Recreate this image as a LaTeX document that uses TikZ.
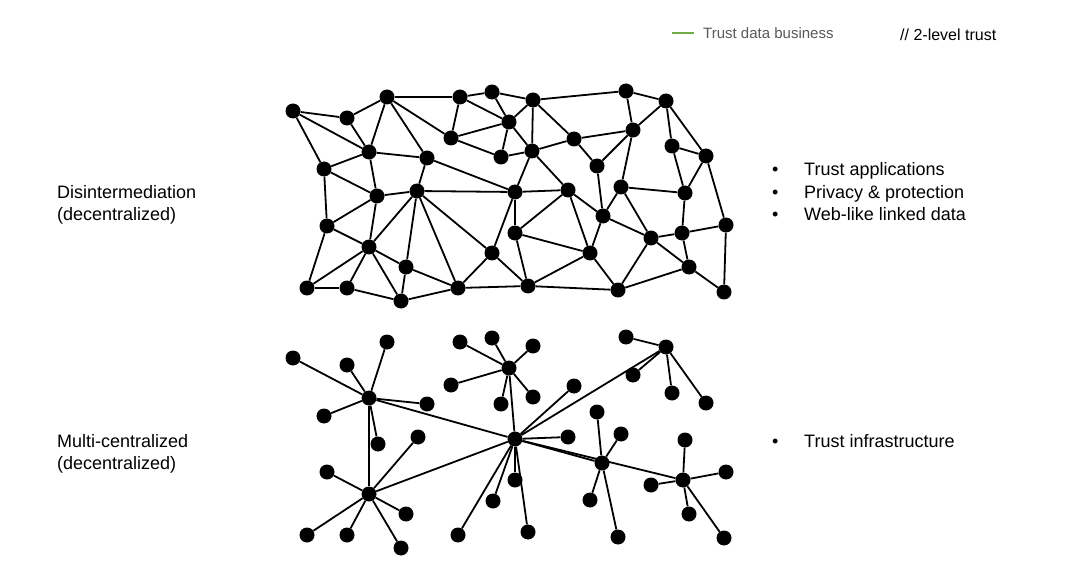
\documentclass[tikz,border=0pt]{standalone}
\usepackage{fontspec}
\setmainfont{Liberation Sans}
\definecolor{legendgreen}{HTML}{70AD47}
\definecolor{legendgray}{HTML}{595959}
\tikzset{
  dot/.style={circle, fill=black, inner sep=0pt, minimum size=15pt},
  edge/.style={line width=1.8pt},
  bigtext/.style={anchor=base west, inner sep=0pt, font=\fontsize{18}{22}\selectfont},
  smalltext/.style={anchor=base west, inner sep=0pt, font=\fontsize{15}{18}\selectfont}
}
\begin{document}
\begin{tikzpicture}[x=1pt,y=-1pt]
\useasboundingbox (0,0) rectangle (1080,583);
% ---------- header ----------
\coordinate (lg1) at (672,33);
\coordinate (lg2) at (694,33);
\draw[legendgreen, line width=1.2pt] (lg1) -- (lg2);
\node[smalltext, text=legendgray] (legtext) at (703,38.5) {Trust data business};
\node[smalltext, font=\fontsize{16}{19}\selectfont] (twolevel) at (900,41) {// 2-level trust};
% ---------- labels ----------
\node[bigtext] (l1a) at (57,198.5) {Disintermediation};
\node[bigtext] (l1b) at (57,221) {(decentralized)};
\node[bigtext] (l2a) at (57,447) {Multi-centralized};
\node[bigtext] (l2b) at (57,469.5) {(decentralized)};
\node[bigtext] (r1) at (772,176) {•};
\node[bigtext] (r1t) at (804,176) {Trust applications};
\node[bigtext] (r2) at (772,198.5) {•};
\node[bigtext] (r2t) at (804,198.5) {Privacy \& protection};
\node[bigtext] (r3) at (772,221) {•};
\node[bigtext] (r3t) at (804,221) {Web-like linked data};
\node[bigtext] (r4) at (772,447) {•};
\node[bigtext] (r4t) at (804,447) {Trust infrastructure};
% ---------- top network ----------
\foreach \n/\x/\y in {
 A/293/111, B/347/118, C/387/97, D/460/97, E/492/92, F/533/100, G/509/122,
 H/451/138, I/501/157, J/532/151, K/574/139, L/626/91, M/666/101, N/633/130,
 O/672/146, P/706/156, Q/369/152, R/427/158, S/324/169, T/597/166, U/417/191,
 V/377/196, W/515/192, X/568/190, Y/621/187, Z/685/193,
 a/327/226, b/603/216, c/515/233, d/369/247, e/492/253, f/590/253, g/651/238,
 h/682/233, i/726/225, j/406/267, k/689/267, l/307/288, m/347/288, n/401/301,
 o/458/288, p/528/286, q/618/290, r/724/292}
  \node[dot] (t\n) at (\x,\y) {};
\foreach \u/\v in {
 A/B, A/Q, A/S, B/C, B/Q, C/Q, C/R, C/D, C/H, D/E, D/G, D/H, E/G, E/F, G/F,
 G/H, G/I, G/J, H/I, I/J, F/J, F/K, F/L, J/K, J/W, J/X, K/N, K/T, T/N, T/b,
 L/N, L/M, M/N, M/O, M/P, O/P, O/Z, N/Y, Y/Z, P/Z, P/i, Q/R, Q/S, Q/V, R/U,
 R/W, S/V, S/a, U/W, V/U, V/a, V/d, U/d, U/j, U/o, U/e, W/e, W/c, a/d, a/l,
 d/l, d/m, d/n, d/j, l/m, m/n, j/n, j/o, n/o, e/o, o/p, e/p, W/X, X/c, X/b,
 X/f, b/Y, Y/g, Z/h, b/f, b/g, c/f, c/p, f/p, f/q, p/q, g/q, g/h, g/k, h/k,
 h/i, q/k, k/r, i/r}
  \draw[edge] (t\u) -- (t\v);
% ---------- bottom network ----------
\foreach \n/\x/\y in {
 hA/369/398, hB/369/494, hC/509/368, hD/515/439, hE/602/463, hF/666/347, hG/683/480,
 a1/293/358, a2/347/365, a3/387/342, a4/427/404, a5/324/416, a6/378/444,
 b1/418/437, b2/327/472, b3/406/514, b4/307/535, b5/347/535, b6/401/548,
 c1/460/342, c2/492/338, c3/533/346, c4/451/385, c5/501/404, c6/533/397,
 d1/574/386, d2/568/437, d3/515/480, d4/493/501, d5/458/535, d6/528/532,
 e1/597/412, e2/621/434, e3/590/500, e4/618/537,
 f1/626/337, f2/633/375, f3/672/393, f4/706/403,
 g1/685/440, g2/726/472, g3/651/485, g4/689/514, g5/724/538}
  \node[dot] (s\n) at (\x,\y) {};
\foreach \u/\v in {
 hA/hB, hA/hD, hB/hD, hC/hD, hD/hE, hD/hG, hD/hF,
 hA/a1, hA/a2, hA/a3, hA/a4, hA/a5, hA/a6,
 hB/b1, hB/b2, hB/b3, hB/b4, hB/b5, hB/b6,
 hC/c1, hC/c2, hC/c3, hC/c4, hC/c5, hC/c6,
 hD/d1, hD/d2, hD/d3, hD/d4, hD/d5, hD/d6,
 hE/e1, hE/e2, hE/e3, hE/e4,
 hF/f1, hF/f2, hF/f3, hF/f4,
 hG/g1, hG/g2, hG/g3, hG/g4, hG/g5}
  \draw[edge] (s\u) -- (s\v);
\end{tikzpicture}
\end{document}
